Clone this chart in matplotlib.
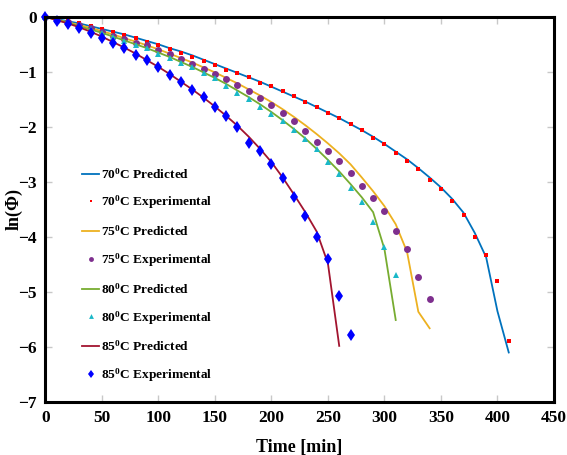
import numpy as np
import matplotlib.pyplot as plt

plt.rcParams['font.family'] = ['Liberation Serif', 'DejaVu Serif']
plt.rcParams['font.weight'] = 'bold'
plt.rcParams['mathtext.fontset'] = 'custom'
plt.rcParams['mathtext.rm'] = 'Liberation Serif:bold'
plt.rcParams['mathtext.bf'] = 'Liberation Serif:bold'
plt.rcParams['mathtext.default'] = 'bf'

# drying data, ln(moisture ratio) sampled every 10 min
t70 = np.arange(0, 420, 10)
exp70 = [0, -0.04, -0.08, -0.12, -0.17, -0.22, -0.28, -0.33, -0.38, -0.46,
         -0.52, -0.59, -0.66, -0.73, -0.80, -0.88, -0.97, -1.02, -1.10, -1.20,
         -1.26, -1.34, -1.43, -1.55, -1.63, -1.74, -1.83, -1.94, -2.06, -2.20,
         -2.32, -2.48, -2.62, -2.77, -2.96, -3.13, -3.34, -3.60, -4.01, -4.32,
         -4.81, -5.90]
pred70 = [0, -0.04, -0.08, -0.12, -0.17, -0.22, -0.27, -0.32, -0.38, -0.44,
          -0.50, -0.57, -0.63, -0.70, -0.78, -0.86, -0.94, -1.02, -1.10, -1.18,
          -1.27, -1.36, -1.45, -1.54, -1.64, -1.74, -1.84, -1.95, -2.06, -2.18,
          -2.31, -2.45, -2.59, -2.75, -2.92, -3.10, -3.31, -3.56, -3.93, -4.37,
          -5.35, -6.10]

t75 = np.arange(0, 350, 10)
exp75 = [0, -0.05, -0.10, -0.15, -0.21, -0.27, -0.34, -0.40, -0.47, -0.52,
         -0.60, -0.68, -0.76, -0.85, -0.94, -1.03, -1.13, -1.24, -1.35, -1.47,
         -1.60, -1.74, -1.90, -2.07, -2.28, -2.44, -2.62, -2.83, -3.07, -3.29,
         -3.52, -3.90, -4.22, -4.73, -5.13]
pred75 = [0, -0.05, -0.10, -0.15, -0.20, -0.26, -0.32, -0.39, -0.45, -0.52,
          -0.59, -0.67, -0.75, -0.83, -0.92, -1.01, -1.11, -1.21, -1.32, -1.43,
          -1.55, -1.68, -1.82, -1.97, -2.13, -2.30, -2.48, -2.68, -2.92, -3.17,
          -3.44, -3.77, -4.27, -5.36, -5.66]

t80 = np.arange(0, 320, 10)
exp80 = [0, -0.05, -0.11, -0.17, -0.23, -0.30, -0.37, -0.44, -0.51, -0.57,
         -0.67, -0.75, -0.83, -0.92, -1.02, -1.12, -1.25, -1.38, -1.49, -1.63,
         -1.77, -1.90, -2.05, -2.22, -2.41, -2.63, -2.85, -3.11, -3.36, -3.72,
         -4.18, -4.69]
pred80 = [0, -0.05, -0.11, -0.17, -0.23, -0.29, -0.36, -0.43, -0.50, -0.57,
          -0.65, -0.73, -0.82, -0.91, -1.01, -1.11, -1.22, -1.34, -1.46, -1.59,
          -1.73, -1.88, -2.04, -2.21, -2.40, -2.60, -2.81, -3.04, -3.28, -3.55,
          -4.22, -5.51]

t85 = np.arange(0, 280, 10)
exp85 = [0, -0.07, -0.13, -0.21, -0.30, -0.39, -0.48, -0.57, -0.69, -0.79,
         -0.92, -1.05, -1.19, -1.33, -1.46, -1.64, -1.81, -2.01, -2.29, -2.44,
         -2.68, -2.93, -3.28, -3.62, -4.01, -4.41, -5.07, -5.79]
pred85 = [0, -0.06, -0.12, -0.19, -0.27, -0.36, -0.46, -0.56, -0.67, -0.79,
          -0.91, -1.04, -1.18, -1.32, -1.47, -1.63, -1.80, -1.98, -2.18, -2.40,
          -2.64, -2.92, -3.23, -3.55, -3.90, -4.48, -5.98]

fig = plt.figure(figsize=(5.67, 4.55), dpi=100)
ax = fig.add_axes([0.080, 0.1165, 0.897, 0.8465])

lw = 1.3
ax.plot(t70, pred70, color='#0072BD', lw=lw, label='70$^0$C Predicted')
ax.plot(t70, exp70, ls='none', marker='s', ms=3.0, mew=0, color='#FF0000',
        clip_on=False, label='70$^0$C Experimental')
ax.plot(t75, pred75, color='#EDB120', lw=lw, label='75$^0$C Predicted')
ax.plot(t75, exp75, ls='none', marker='o', ms=5.0, mew=0, color='#7E2F8E',
        clip_on=False, label='75$^0$C Experimental')
ax.plot(t80, pred80, color='#77AC30', lw=lw, label='80$^0$C Predicted')
ax.plot(t80, exp80, ls='none', marker='^', ms=5.0, mew=0, color='#1AB8C8',
        clip_on=False, label='80$^0$C Experimental')
ax.plot(t85[:len(pred85)], pred85, color='#A2142F', lw=lw,
        label='85$^0$C Predicted')
ax.plot(t85, exp85, ls='none', marker='d', ms=6.5, mew=0, color='#0000FF',
        clip_on=False, label='85$^0$C Experimental')

ax.set_xlim(0, 450)
ax.set_ylim(-7, 0)
ax.set_xticks(np.arange(0, 451, 50))
ax.set_yticks(np.arange(-7, 1, 1))
ax.tick_params(direction='in', length=5, width=1, color='#c8c8c8',
               top=True, right=True, labelsize=12.5, pad=6)
for lab in ax.get_xticklabels() + ax.get_yticklabels():
    lab.set_fontweight('bold')
for sp in ax.spines.values():
    sp.set_linewidth(2.2)
    sp.set_color('black')

ax.set_xlabel('Time [min]', fontsize=13, fontweight='bold')
ax.set_ylabel('ln(Φ)', fontsize=13, fontweight='bold')
ax.xaxis.set_label_coords(0.5, -0.095)
ax.yaxis.set_label_coords(-0.045, 0.5)

leg = ax.legend(loc='upper left', bbox_to_anchor=(0.062, 0.625),
                frameon=False, fontsize=9.6, handlelength=1.25,
                handletextpad=0.15, labelspacing=0.95, borderaxespad=0,
                numpoints=1, markerscale=0.7)
for txt in leg.get_texts():
    txt.set_fontweight('bold')

fig.savefig('out.png', dpi=100)
